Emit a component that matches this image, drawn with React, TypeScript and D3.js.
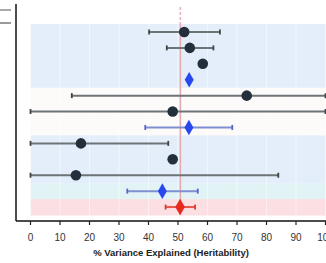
import React from "react";
import * as d3 from "d3";

const categories = ["A1", "A2", "A3", "A Pooled", "B1", "B2", "B Pooled", "C1", "C2", "C3", "C Pooled", "Overall"];
const estimates = [52.1, 54.0, 58.4, 53.8, 73.3, 48.2, 53.7, 17.1, 48.2, 15.4, 44.7, 50.7];
const lower = [40.2, 46.2, null, null, 14.0, 0, 38.9, 0, null, 0, 32.8, 45.8];
const upper = [64.2, 62.0, null, null, 100, 100, 68.4, 46.7, null, 84.0, 56.7, 55.8];
const markerType = ["circle", "circle", "circle", "pooled", "circle", "circle", "pooled", "circle", "circle", "circle", "pooled", "overall"];
const bandColor = ["blue", "blue", "blue", "blue", "white", "white", "white", "blue", "blue", "blue", "cyan", "pink"];
const xTicks = [0, 10, 20, 30, 40, 50, 60, 70, 80, 90, 100];
const refValue = 50.8;
const xTitle = "% Variance Explained (Heritability)";

const W = 326, H = 263;

export default function App() {
  const x = d3.scaleLinear().domain([0, 100]).range([30.5, 325.5]);
  const y = d3.scaleBand<number>().domain(d3.range(categories.length)).range([24, 215]).padding(0);
  const bw = y.bandwidth();
  const fills: Record<string, string> = { blue: "#e4eefa", white: "#fdfafa", cyan: "#e2f3f6", pink: "#fbdfe2" };
  const diamond = d3.symbol().type(d3.symbolDiamond).size(70)();
  const diamondBig = d3.symbol().type(d3.symbolDiamond).size(80)();
  const axisY = 221;
  return (
    <div style={{ position: "fixed", left: 0, top: 0 }}>
      <svg width={W} height={H} style={{ display: "block", background: "#fff" }} fontFamily="Liberation Sans, Arial, sans-serif">
        {categories.map((c, i) => (
          <rect key={"b" + c} x={x(0)} y={y(i)!} width={W - x(0)} height={bw + 0.5} fill={fills[bandColor[i]]} />
        ))}
        {xTicks.map((t) => (
          <line key={"g" + t} x1={x(t)} x2={x(t)} y1={24} y2={215} stroke="#ffffff" strokeOpacity={0.6} strokeWidth={0.8} />
        ))}
        <line x1={x(refValue)} x2={x(refValue)} y1={7} y2={24} stroke="#e3b0b5" strokeWidth={1.5} strokeDasharray="3,2" />
        <line x1={x(refValue)} x2={x(refValue)} y1={24} y2={215} stroke="#e3aab0" strokeWidth={1.6} />
        {categories.map((c, i) => {
          const cy = y(i)! + bw / 2;
          const t = markerType[i];
          const lo = lower[i], hi = upper[i];
          const lineCol = t === "pooled" ? "#7f8fd0" : t === "overall" ? "#e8564a" : "#6e7376";
          const capCol = t === "pooled" ? "#5566c8" : t === "overall" ? "#e03a2e" : "#3e4448";
          return (
            <g key={"r" + c}>
              {lo !== null && hi !== null && (
                <g>
                  <line x1={x(lo)} x2={x(hi)} y1={cy} y2={cy} stroke={lineCol} strokeWidth={2} />
                  <line x1={x(lo)} x2={x(lo)} y1={cy - 2.5} y2={cy + 2.5} stroke={capCol} strokeWidth={1.8} />
                  <line x1={x(hi)} x2={x(hi)} y1={cy - 2.5} y2={cy + 2.5} stroke={capCol} strokeWidth={1.8} />
                </g>
              )}
              {t === "circle" && <circle cx={x(estimates[i])} cy={cy} r={5.3} fill="#23303c" />}
              {t === "pooled" && <path d={diamond!} transform={`translate(${x(estimates[i])},${cy})`} fill="#2848ee" />}
              {t === "overall" && <path d={diamondBig!} transform={`translate(${x(estimates[i])},${cy})`} fill="#e82a1c" />}
            </g>
          );
        })}
        <line x1={16} x2={16} y1={4} y2={axisY} stroke="#111" strokeWidth={1.5} />
        <line x1={16} x2={W} y1={axisY} y2={axisY} stroke="#111" strokeWidth={1.5} />
        <line x1={0} x2={11} y1={10} y2={10} stroke="#555" strokeWidth={1} />
        <line x1={0} x2={11} y1={23} y2={23} stroke="#555" strokeWidth={1.2} />
        {xTicks.map((t) => (
          <g key={"t" + t}>
            <line x1={x(t)} x2={x(t)} y1={axisY} y2={axisY + 4} stroke="#222" strokeWidth={1.2} />
            <text x={x(t)} y={241} textAnchor="middle" fontSize={10} fill="#333">{t}</text>
          </g>
        ))}
        <text x={171} y={256} textAnchor="middle" fontSize={9.5} fontWeight="bold" fill="#222">{xTitle}</text>
      </svg>
    </div>
  );
}
